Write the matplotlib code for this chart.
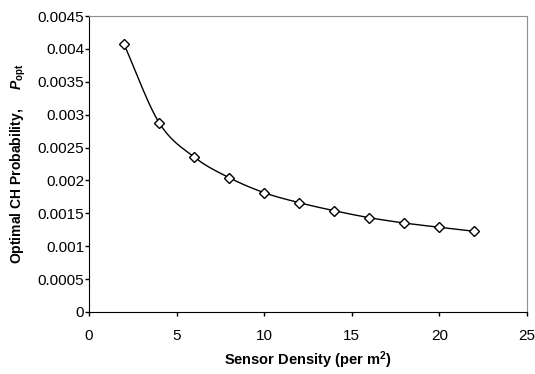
import numpy as np
import matplotlib
matplotlib.use('Agg')
import matplotlib.pyplot as plt

# data
density = [2, 4, 6, 8, 10, 12, 14, 16, 18, 20, 22]
p_opt = [0.00407, 0.00288, 0.002356, 0.002042, 0.001814, 0.001662,
         0.00154, 0.001434, 0.001353, 0.001288, 0.001227]


def smooth_curve(x, y, n=30):
    """Catmull-Rom spline through the points (like Excel's smoothed line)."""
    x = np.asarray(x, float)
    y = np.asarray(y, float)
    px = np.concatenate([[2 * x[0] - x[1]], x, [2 * x[-1] - x[-2]]])
    py = np.concatenate([[2 * y[0] - y[1]], y, [2 * y[-1] - y[-2]]])
    xs, ys = [], []
    t = np.linspace(0, 1, n)
    for i in range(1, len(px) - 2):
        for p, out in ((px, xs), (py, ys)):
            p0, p1, p2, p3 = p[i - 1], p[i], p[i + 1], p[i + 2]
            out.extend(0.5 * (2 * p1 + (-p0 + p2) * t
                              + (2 * p0 - 5 * p1 + 4 * p2 - p3) * t ** 2
                              + (-p0 + 3 * p1 - 3 * p2 + p3) * t ** 3))
    return np.array(xs), np.array(ys)


plt.rcParams['font.family'] = 'Liberation Sans'
plt.rcParams['mathtext.fontset'] = 'custom'
plt.rcParams['mathtext.rm'] = 'Liberation Sans'
plt.rcParams['mathtext.bf'] = 'Liberation Sans:bold'
plt.rcParams['mathtext.it'] = 'Liberation Sans:italic'
plt.rcParams['mathtext.bfit'] = 'Liberation Sans:italic:bold'

fig = plt.figure(figsize=(5.35, 3.74), dpi=100)
ax = fig.add_axes([0.1664, 0.1658, 0.8186, 0.7912])

sx, sy = smooth_curve(density, p_opt)
ax.plot(sx, sy, color='black', linewidth=1)
ax.plot(density, p_opt, linestyle='none', marker='D', markersize=5.5,
        markerfacecolor='white', markeredgecolor='black', markeredgewidth=1)

ax.set_xlim(0, 25)
ax.set_ylim(0, 0.0045)
ax.set_xticks(np.arange(0, 26, 5))
ax.set_yticks(np.arange(0, 0.00451, 0.0005))
ax.set_yticklabels(['0', '0.0005', '0.001', '0.0015', '0.002', '0.0025',
                    '0.003', '0.0035', '0.004', '0.0045'])
ax.tick_params(direction='out', length=3, width=1, labelsize=11)
ax.tick_params(axis='x', pad=9)
ax.tick_params(axis='y', pad=0.5)

for side in ('left', 'bottom'):
    ax.spines[side].set_color('black')
for side in ('top', 'right'):
    ax.spines[side].set_color('#909090')

ax.set_xlabel(r'Sensor Density (per m$^{\mathbf{2}}$)', fontsize=10.5,
              fontweight='bold', labelpad=5)
ax.set_ylabel(r'Optimal CH Probability,     $\mathbfit{P}_{\mathbf{opt}}$',
              fontsize=10, fontweight='bold', labelpad=7)

fig.savefig('out.png', dpi=100)
